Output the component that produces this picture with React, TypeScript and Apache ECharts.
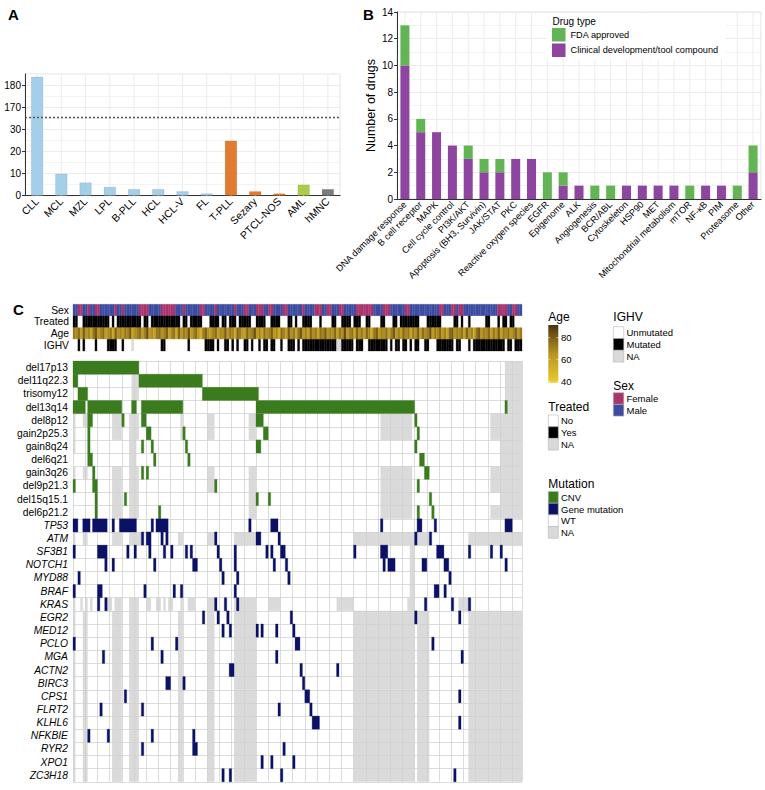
import React, { useEffect, useRef } from "react";
import * as echarts from "echarts";

const FONT = "'Liberation Sans', Arial, Helvetica, sans-serif";

// ---------------- Panel A ----------------
const cohortNames = ["CLL", "MCL", "MZL", "LPL", "B-PLL", "HCL", "HCL-V", "FL", "T-PLL", "Sezary", "PTCL-NOS", "AML", "hMNC"];
const cohortSamples = [184, 10, 6, 4, 3, 3, 2, 1, 25, 2, 1, 5, 3];
const cohortGroups = ["B", "B", "B", "B", "B", "B", "B", "B", "T", "T", "T", "M", "N"];
const groupColors: Record<string, string> = { B: "#a4cfe9", T: "#e07b30", M: "#a8cf46", N: "#7c7c7c" };
const axisBreakAt = 35.5; // transformed units: values above the break are shifted down
const axisBreakShift = 130;

// ---------------- Panel B ----------------
const drugTargets = ["DNA damage response", "B cell receptor", "MAPK", "Cell cycle control", "PI3K/AKT", "Apoptosis (BH3, Survivin)", "JAK/STAT", "PKC", "Reactive oxygen species", "EGFR", "Epigenome", "ALK", "Angiogenesis", "BCR/ABL", "Cytoskeleton", "HSP90", "MET", "Mitochondrial metabolism", "mTOR", "NF-κB", "PIM", "Proteasome", "Other"];
const drugsClinical = [10, 5, 5, 4, 3, 2, 2, 3, 3, 0, 1, 1, 0, 0, 1, 1, 1, 1, 0, 1, 1, 0, 2];
const drugsFDA = [3, 1, 0, 0, 1, 1, 1, 0, 0, 2, 1, 0, 1, 1, 0, 0, 0, 0, 1, 0, 0, 1, 2];

// ---------------- Panel C ----------------
const N_SAMPLES = 184;
const annotationTracks = ["Sex", "Treated", "Age", "IGHV"];
// runs are [firstSample, lastSample + 1]
const sexFemale = [[2, 4], [6, 7], [9, 11], [17, 18], [20, 21], [27, 31], [36, 42], [45, 46], [52, 54], [58, 59], [66, 67], [70, 72], [75, 78], [80, 82], [86, 88], [94, 95], [99, 102], [104, 106], [109, 111], [116, 123], [127, 130], [136, 138], [150, 152], [155, 157], [158, 160], [174, 178], [180, 182]];
const treatedYes = [[0, 2], [4, 15], [16, 17], [18, 28], [29, 31], [32, 44], [45, 47], [48, 53], [56, 60], [61, 63], [64, 67], [68, 73], [75, 79], [81, 85], [88, 90], [91, 92], [94, 98], [101, 102], [106, 108], [110, 114], [115, 118], [120, 122], [126, 128], [131, 133], [134, 142], [145, 151], [156, 158], [159, 160], [162, 163], [169, 171], [174, 175], [176, 178], [179, 181]];
const treatedNA: number[][] = [];
const ighvMutated = [[2, 3], [4, 5], [9, 10], [14, 18], [20, 21], [36, 38], [47, 48], [54, 58], [59, 60], [62, 64], [65, 66], [67, 68], [70, 72], [73, 74], [76, 77], [78, 80], [81, 83], [85, 86], [88, 91], [92, 93], [94, 108], [110, 115], [116, 119], [121, 129], [130, 131], [132, 134], [135, 137], [138, 139], [140, 142], [144, 146], [149, 156], [157, 159], [162, 163], [164, 177], [178, 180], [181, 184]];
const ighvNA = [[24, 25], [108, 110]];
const sampleAge = [
  72, 68, 75, 62, 80, 66, 70, 58, 74, 82, 65, 70, 77, 60, 68, 73, 55, 79, 66, 71,
  63, 74, 69, 81, 58, 67, 72, 76, 64, 70, 85, 62, 68, 59, 73, 77, 66, 71, 80, 60,
  69, 74, 57, 78, 65, 72, 68, 83, 61, 70, 75, 64, 52, 73, 79, 67, 62, 71, 76, 58,
  70, 66, 81, 63, 74, 69, 55, 77, 72, 65, 60, 78, 68, 73, 84, 62, 70, 57, 75, 66,
  71, 79, 64, 68, 53, 76, 70, 62, 80, 67, 73, 59, 74, 82, 65, 70, 61, 77, 68, 72,
  56, 75, 69, 81, 64, 71, 66, 78, 60, 73, 68, 85, 62, 70, 75, 58, 79, 66, 72, 64,
  77, 69, 54, 74, 80, 63, 71, 67, 76, 59, 72, 82, 65, 70, 61, 78, 68, 74, 57, 73,
  66, 80, 62, 75, 69, 71, 84, 60, 73, 67, 77, 63, 70, 58, 76, 81, 65, 72, 68, 74,
  61, 79, 67, 70, 56, 75, 82, 64, 71, 69, 77, 62, 73, 66, 80, 59, 72, 68, 75, 63,
  70, 78, 65, 72,
];
const ageTicks = [40, 60, 80];

// CNV rows
const del17p13 = { hit: [[0, 27]], na: [[177, 184]] };
const del11q22_3 = { hit: [[0, 2], [27, 53]], na: [[24, 27], [177, 184]] };
const trisomy12 = { hit: [[2, 6], [53, 76]], na: [[24, 27], [177, 184]] };
const del13q14 = { hit: [[0, 5], [6, 20], [24, 26], [28, 45], [75, 140], [177, 178]], na: [[178, 184]] };
const del8p12 = { hit: [[6, 8], [20, 21], [28, 30], [75, 78], [140, 141]], na: [[0, 1], [4, 6], [16, 20], [23, 27], [44, 45], [55, 58], [72, 75], [126, 139], [171, 184]] };
const gain2p25_3 = { hit: [[6, 7], [30, 32], [45, 46], [78, 80], [141, 142]], na: [[0, 1], [16, 20], [23, 27], [44, 45], [55, 58], [72, 75], [126, 139], [171, 184]] };
const gain8q24 = { hit: [[6, 7], [28, 29], [32, 33], [46, 47], [75, 77], [140, 141]], na: [[0, 1], [23, 26], [175, 184]] };
const del6q21 = { hit: [[6, 8], [33, 34], [47, 48], [142, 144]], na: [[23, 26], [175, 184]] };
const gain3q26 = { hit: [[8, 9], [28, 29], [30, 31], [144, 146]], na: [[0, 1], [4, 6], [16, 20], [23, 27], [55, 58], [72, 75], [126, 139], [171, 184]] };
const del9p21_3 = { hit: [[0, 1], [8, 10], [58, 59], [141, 142]], na: [[16, 20], [23, 27], [55, 58], [72, 75], [126, 139], [171, 184]] };
const del15q15_1 = { hit: [[9, 10], [21, 22], [75, 76], [80, 81], [146, 147]], na: [[16, 20], [23, 27], [72, 75], [126, 139], [175, 184]] };
const del6p21_2 = { hit: [[9, 10], [35, 36], [141, 142], [147, 148]], na: [[16, 20], [23, 27], [72, 75], [126, 139], [171, 184]] };

// gene rows
const geneNaBands = [[0, 1], [4, 6], [16, 20], [23, 27], [43, 45], [55, 58], [66, 75], [115, 140], [141, 146], [162, 184]];
const TP53 = { hit: [[0, 2], [4, 7], [8, 14], [16, 17], [19, 26], [32, 33], [34, 39], [72, 73], [81, 84], [126, 127], [141, 143], [148, 149], [177, 180]], na: [] as number[][] };
const ATM = { hit: [[28, 29], [30, 32], [36, 37], [38, 39], [58, 59], [75, 77], [84, 85], [140, 141], [146, 147]], na: [[0, 1], [4, 6], [16, 20], [23, 28], [43, 45], [55, 58], [66, 75], [115, 146], [162, 184]] };
const SF3B1 = { hit: [[0, 1], [10, 14], [22, 23], [25, 26], [31, 32], [37, 38], [40, 41], [46, 47], [48, 49], [59, 60], [66, 67], [79, 80], [81, 82], [85, 87], [115, 116], [126, 129], [149, 152], [162, 163], [171, 172], [175, 176]], na: [[138, 140]] };
const NOTCH1 = { hit: [[13, 14], [16, 17], [33, 34], [49, 51], [60, 61], [66, 67], [82, 83], [87, 88], [127, 128], [129, 132], [143, 145], [152, 154], [177, 178]], na: [[138, 140]] };
const MYD88 = { hit: [[2, 3], [61, 62], [67, 68], [88, 89], [154, 155]], na: [[138, 140]] };
const BRAF = { hit: [[0, 1], [10, 12], [29, 30], [41, 42], [44, 45], [66, 67], [148, 150], [152, 153]], na: [[138, 140]] };
const KRAS = { hit: [[10, 11], [13, 14], [58, 59], [62, 63], [67, 68], [144, 145], [155, 156], [162, 163]], na: [[0, 1], [3, 4], [5, 6], [7, 8], [14, 16], [17, 20], [23, 27], [30, 32], [34, 36], [37, 38], [39, 41], [44, 45], [47, 50], [55, 58], [66, 75], [80, 85], [108, 115], [137, 140], [158, 162]] };
const EGR2 = { hit: [[53, 54], [59, 60], [63, 64], [89, 90], [140, 141], [158, 159]], na: geneNaBands };
const MED12 = { hit: [[61, 62], [64, 65], [75, 76], [77, 78], [83, 84], [90, 91]], na: geneNaBands };
const PCLO = { hit: [[0, 1], [32, 33], [42, 43], [91, 93], [147, 148]], na: geneNaBands };
const MGA = { hit: [[12, 13], [36, 37], [83, 84], [159, 160]], na: geneNaBands };
const ACTN2 = { hit: [[64, 66], [93, 94], [108, 109]], na: geneNaBands };
const BIRC3 = { hit: [[38, 40], [45, 46], [94, 95]], na: geneNaBands };
const CPS1 = { hit: [[21, 22], [95, 97], [158, 159]], na: geneNaBands };
const FLRT2 = { hit: [[11, 12], [28, 29], [84, 85], [97, 98]], na: geneNaBands };
const KLHL6 = { hit: [[98, 101], [158, 159]], na: geneNaBands };
const NFKBIE = { hit: [[6, 7], [14, 15], [32, 33], [49, 50]], na: geneNaBands };
const RYR2 = { hit: [[28, 29], [49, 51], [86, 87]], na: geneNaBands };
const XPO1 = { hit: [[77, 78], [81, 82], [90, 91]], na: geneNaBands };
const ZC3H18 = { hit: [[61, 62], [64, 65], [85, 86], [156, 157]], na: geneNaBands };

const cnvNames = ["del17p13", "del11q22.3", "trisomy12", "del13q14", "del8p12", "gain2p25.3", "gain8q24", "del6q21", "gain3q26", "del9p21.3", "del15q15.1", "del6p21.2"];
const cnvRows = [del17p13, del11q22_3, trisomy12, del13q14, del8p12, gain2p25_3, gain8q24, del6q21, gain3q26, del9p21_3, del15q15_1, del6p21_2];
const geneNames = ["TP53", "ATM", "SF3B1", "NOTCH1", "MYD88", "BRAF", "KRAS", "EGR2", "MED12", "PCLO", "MGA", "ACTN2", "BIRC3", "CPS1", "FLRT2", "KLHL6", "NFKBIE", "RYR2", "XPO1", "ZC3H18"];
const geneRows = [TP53, ATM, SF3B1, NOTCH1, MYD88, BRAF, KRAS, EGR2, MED12, PCLO, MGA, ACTN2, BIRC3, CPS1, FLRT2, KLHL6, NFKBIE, RYR2, XPO1, ZC3H18];

// ---------------- colours ----------------
const C_CNV = "#3a7b1e";
const C_MUT = "#0b1266";
const C_NA = "#cfcfcf";
const C_FEMALE = "#a8356c";
const C_MALE = "#3c4ca0";
const C_PURPLE = "#8e45a0";
const C_GREEN = "#63b454";
const AGE_MIN = 39;
const AGE_MAX = 91.5;
const ageStops = ["#eccb2e", "#b8941f", "#4a3410"];

function hex(c: string) {
  return [1, 3, 5].map((i) => parseInt(c.slice(i, i + 2), 16));
}
function ageColor(a: number) {
  const t = Math.max(0, Math.min(1, (a - AGE_MIN) / (AGE_MAX - AGE_MIN)));
  const seg = t < 0.5 ? 0 : 1;
  const lt = t < 0.5 ? t / 0.5 : (t - 0.5) / 0.5;
  const c0 = hex(ageStops[seg]);
  const c1 = hex(ageStops[seg + 1]);
  const c = c0.map((v, i) => Math.round(v + (c1[i] - v) * lt));
  return `rgb(${c[0]},${c[1]},${c[2]})`;
}

function inRuns(runs: number[][], i: number) {
  return runs.some((r) => i >= r[0] && i < r[1]);
}

function buildOption() {
  const tA = (v: number) => (v <= axisBreakAt ? v : v - axisBreakShift);

  // annotation cells
  const annData: number[][] = [];
  const annColor: string[] = [];
  for (let i = 0; i < N_SAMPLES; i++) {
    annData.push([i, i + 1, 0]);
    annColor.push(inRuns(sexFemale, i) ? C_FEMALE : C_MALE);
    annData.push([i, i + 1, 1]);
    annColor.push(inRuns(treatedNA, i) ? "#d9d9d9" : inRuns(treatedYes, i) ? "#000000" : "#ffffff");
    annData.push([i, i + 1, 2]);
    annColor.push(ageColor(sampleAge[i]));
    annData.push([i, i + 1, 3]);
    annColor.push(inRuns(ighvNA, i) ? "#d9d9d9" : inRuns(ighvMutated, i) ? "#000000" : "#ffffff");
  }

  // main matrix cells: NA first, then hits
  const rowNames = [...cnvNames, ...geneNames];
  const rows = [...cnvRows, ...geneRows];
  const cellData: number[][] = [];
  const cellKind: number[] = [];
  rows.forEach((row, r) => {
    row.na.forEach((run) => {
      cellData.push([run[0], run[1], r]);
      cellKind.push(0);
    });
  });
  rows.forEach((row, r) => {
    row.hit.forEach((run) => {
      cellData.push([run[0], run[1], r]);
      cellKind.push(r < cnvRows.length ? 1 : 2);
    });
  });

  const catLinesA = cohortNames.map((_, i) => [i, 0]);
  const catLinesB = drugTargets.map((_, i) => [i, 0]);
  const vLine = (color: string) => (params: any, api: any) => {
    const x = api.coord([api.value(0), 0])[0];
    const cs = params.coordSys;
    return {
      type: "line",
      shape: { x1: x, y1: cs.y, x2: x, y2: cs.y + cs.height },
      style: { stroke: color, lineWidth: 1 },
    };
  };

  const runRect = (colorOf: (idx: number) => string, extra: (idx: number) => any) => (params: any, api: any) => {
    const s = api.value(0);
    const e = api.value(1);
    const r = api.value(2);
    const a = api.coord([s, r]);
    const b = api.coord([e, r]);
    const h = api.size([0, 1])[1];
    const fill = colorOf(params.dataIndex);
    return {
      type: "rect",
      shape: { x: a[0], y: a[1] - h / 2, width: b[0] - a[0], height: h },
      style: { fill, stroke: fill, lineWidth: 0.3, ...extra(params.dataIndex) },
    };
  };

  // legend graphics for panel C
  const g: any[] = [];
  const txt = (x: number, y: number, text: string, size: number, extra: any = {}) =>
    g.push({ type: "text", x, y, z: 20, style: { text, fontSize: size, fontFamily: FONT, fill: "#000", textVerticalAlign: "middle", ...extra } });
  const key = (x: number, y: number, w: number, h: number, fill: string) =>
    g.push({ type: "rect", z: 20, shape: { x, y, width: w, height: h }, style: { fill, stroke: "#b5b5b5", lineWidth: 0.6 } });

  txt(8, 14, "A", 15, { fontWeight: "bold" });
  txt(363, 14, "B", 15, { fontWeight: "bold" });
  txt(13, 309, "C", 15, { fontWeight: "bold" });

  // Panel B legend
  g.push({ type: "rect", z: 10, shape: { x: 546, y: 13, width: 180, height: 46 }, style: { fill: "#fff" } });
  txt(552.5, 21, "Drug type", 10);

  // Age colourbar
  const barX = 548.3, barTop = 325, barH = 57.7;
  txt(548.3, 317, "Age", 12);
  g.push({
    type: "rect", z: 20, shape: { x: barX, y: barTop, width: 10, height: barH },
    style: { fill: new echarts.graphic.LinearGradient(0, 0, 0, 1, [{ offset: 0, color: ageStops[2] }, { offset: 0.5, color: ageStops[1] }, { offset: 1, color: ageStops[0] }]) },
  });
  ageTicks.forEach((a) => {
    const y = barTop + barH - ((a - AGE_MIN) / (AGE_MAX - AGE_MIN)) * barH;
    g.push({ type: "line", z: 21, shape: { x1: barX, y1: y, x2: barX + 2, y2: y }, style: { stroke: "#fff", lineWidth: 0.6 } });
    g.push({ type: "line", z: 21, shape: { x1: barX + 8, y1: y, x2: barX + 10, y2: y }, style: { stroke: "#fff", lineWidth: 0.6 } });
    txt(561, y, String(a), 9.5);
  });

  // Treated legend
  txt(548.3, 407, "Treated", 12);
  [["No", "#ffffff"], ["Yes", "#000000"], ["NA", "#d9d9d9"]].forEach((k, i) => {
    key(548.3, 415 + i * 11.7, 10, 11.7, k[1]);
    txt(561, 415 + i * 11.7 + 5.9, k[0], 9.5);
  });
  // IGHV legend
  txt(613.3, 317, "IGHV", 12);
  [["Unmutated", "#ffffff"], ["Mutated", "#000000"], ["NA", "#d9d9d9"]].forEach((k, i) => {
    key(613.3, 326.7 + i * 11.8, 10.5, 11.8, k[1]);
    txt(626.5, 326.7 + i * 11.8 + 5.9, k[0], 9.5);
  });
  // Sex legend
  txt(613.3, 386, "Sex", 12);
  [["Female", C_FEMALE], ["Male", C_MALE]].forEach((k, i) => {
    key(613.3, 392.7 + i * 11.7, 10.5, 11.7, k[1]);
    txt(626.5, 392.7 + i * 11.7 + 5.9, k[0], 9.5);
  });
  // Mutation legend
  txt(548.3, 484, "Mutation", 12);
  [["CNV", C_CNV], ["Gene mutation", C_MUT], ["WT", "#ffffff"], ["NA", "#d9d9d9"]].forEach((k, i) => {
    key(548.3, 491.5 + i * 11.7, 10, 11.7, k[1]);
    txt(561, 491.5 + i * 11.7 + 5.9, k[0], 9.5);
  });

  const axisDark = "#333";

  return {
    animation: false,
    textStyle: { fontFamily: FONT },
    grid: [
      { left: 25, top: 74, width: 315, height: 121.7, show: true, borderColor: "#e3e3e3", borderWidth: 1 },
      { left: 397, top: 12, width: 364, height: 187, show: true, borderColor: "#e3e3e3", borderWidth: 1 },
      { left: 73, top: 304.3, width: 449, height: 46.7 },
      { left: 73, top: 361, width: 449, height: 420.8 },
    ],
    xAxis: [
      {
        type: "category", gridIndex: 0, data: cohortNames,
        axisLine: { lineStyle: { color: axisDark } },
        axisTick: { alignWithLabel: true, length: 3, lineStyle: { color: axisDark } },
        axisLabel: { rotate: 45, fontSize: 10.5, color: "#000", margin: 4, interval: 0 },
        splitLine: { show: false },
      },
      {
        type: "category", gridIndex: 1, data: drugTargets,
        axisLine: { lineStyle: { color: axisDark } },
        axisTick: { alignWithLabel: true, length: 3, lineStyle: { color: axisDark } },
        axisLabel: { rotate: 45, fontSize: 9.2, color: "#000", margin: 4, interval: 0 },
        splitLine: { show: false },
      },
      {
        type: "value", gridIndex: 2, min: 0, max: N_SAMPLES,
        axisLine: { show: false }, axisTick: { show: false }, axisLabel: { show: false }, splitLine: { show: false },
      },
      {
        type: "value", gridIndex: 3, min: 0, max: N_SAMPLES, interval: 5,
        axisLine: { show: false }, axisTick: { show: false }, axisLabel: { show: false },
        splitLine: { show: true, lineStyle: { color: "#cdcdcd", width: 0.7 } },
      },
    ],
    yAxis: [
      {
        type: "value", gridIndex: 0, min: 0, max: 55.3, interval: 10,
        axisLine: { show: true, lineStyle: { color: axisDark } },
        axisTick: { show: true, length: 3, lineStyle: { color: axisDark } },
        axisLabel: {
          fontSize: 10, color: "#000", margin: 4, showMaxLabel: false,
          formatter: (v: number) => (v <= axisBreakAt ? String(v) : String(v + axisBreakShift)),
        },
        splitLine: { lineStyle: { color: "#ececec" } },
        minorTick: { show: false, splitNumber: 2 },
        minorSplitLine: { show: true, lineStyle: { color: "#f4f4f4" } },
      },
      {
        type: "value", gridIndex: 1, min: 0, max: 14, interval: 2,
        name: "Number of drugs", nameLocation: "middle", nameGap: 19, nameRotate: 90,
        nameTextStyle: { fontSize: 12.5, color: "#000" },
        axisLine: { show: true, lineStyle: { color: axisDark } },
        axisTick: { show: true, length: 3, lineStyle: { color: axisDark } },
        axisLabel: { fontSize: 10, color: "#000", margin: 4 },
        splitLine: { lineStyle: { color: "#ececec" } },
        minorTick: { show: false, splitNumber: 2 },
        minorSplitLine: { show: true, lineStyle: { color: "#f4f4f4" } },
      },
      {
        type: "category", gridIndex: 2, data: annotationTracks, inverse: true,
        axisLine: { show: false }, axisTick: { show: false },
        axisLabel: { fontSize: 10.3, color: "#000", margin: 4, interval: 0 },
        splitLine: { show: false },
      },
      {
        type: "category", gridIndex: 3, data: rowNames, inverse: true,
        axisLine: { show: false }, axisTick: { show: false },
        axisLabel: {
          color: "#000", margin: 5, interval: 0,
          formatter: (v: string) => (geneNames.includes(v) ? `{g|${v}}` : `{c|${v}}`),
          rich: {
            g: { fontStyle: "italic", fontSize: 10.3, fontFamily: FONT, color: "#000" },
            c: { fontSize: 10.3, fontFamily: FONT, color: "#000" },
          },
        },
        splitLine: { show: true, lineStyle: { color: "#cdcdcd", width: 0.7 } },
      },
    ],
    legend: {
      left: 552, top: 28, orient: "vertical", z: 12,
      itemWidth: 13.5, itemHeight: 13.5, itemGap: 2, padding: 0, icon: "rect",
      data: ["FDA approved", "Clinical development/tool compound"],
      textStyle: { fontSize: 9.2, color: "#000", fontFamily: FONT, padding: [0, 0, 0, 0] },
    },
    graphic: g,
    series: [
      {
        type: "custom", xAxisIndex: 0, yAxisIndex: 0, z: 1, silent: true,
        data: catLinesA, renderItem: vLine("#ececec"),
      },
      {
        type: "bar", xAxisIndex: 0, yAxisIndex: 0, z: 3, barWidth: "50%",
        data: cohortSamples.map((v, i) => ({ value: tA(v), itemStyle: { color: groupColors[cohortGroups[i]], borderColor: "rgba(0,0,0,0.15)", borderWidth: 0.5 } })),
        markLine: {
          silent: true, symbol: ["none", "none"], label: { show: false },
          lineStyle: { type: [2, 2], color: "#555", width: 1.3 },
          data: [{ yAxis: axisBreakAt }],
        },
      },
      {
        type: "custom", xAxisIndex: 1, yAxisIndex: 1, z: 1, silent: true,
        data: catLinesB, renderItem: vLine("#ececec"),
      },
      {
        name: "Clinical development/tool compound", type: "bar", stack: "drugs", xAxisIndex: 1, yAxisIndex: 1, z: 3,
        barWidth: "57%", itemStyle: { color: C_PURPLE }, data: drugsClinical,
      },
      {
        name: "FDA approved", type: "bar", stack: "drugs", xAxisIndex: 1, yAxisIndex: 1, z: 3,
        barWidth: "57%", itemStyle: { color: C_GREEN }, data: drugsFDA,
      },
      {
        type: "custom", xAxisIndex: 2, yAxisIndex: 2, z: 3, silent: true,
        encode: { x: [0, 1], y: 2 },
        data: annData,
        renderItem: runRect((i) => annColor[i], () => ({})),
      },
      {
        type: "custom", xAxisIndex: 3, yAxisIndex: 3, z: 3, silent: true,
        encode: { x: [0, 1], y: 2 },
        data: cellData,
        renderItem: runRect(
          (i) => (cellKind[i] === 0 ? C_NA : cellKind[i] === 1 ? C_CNV : C_MUT),
          (i) => (cellKind[i] === 0 ? { opacity: 0.78, lineWidth: 0 } : {})
        ),
      },
    ],
  };
}

export default function App() {
  const ref = useRef<HTMLDivElement>(null);
  useEffect(() => {
    if (!ref.current) return;
    const chart = echarts.init(ref.current, null, { renderer: "svg" });
    chart.setOption(buildOption() as any);
    return () => chart.dispose();
  }, []);
  return <div ref={ref} style={{ position: "absolute", left: 0, top: 0, width: 765, height: 790 }} />;
}
